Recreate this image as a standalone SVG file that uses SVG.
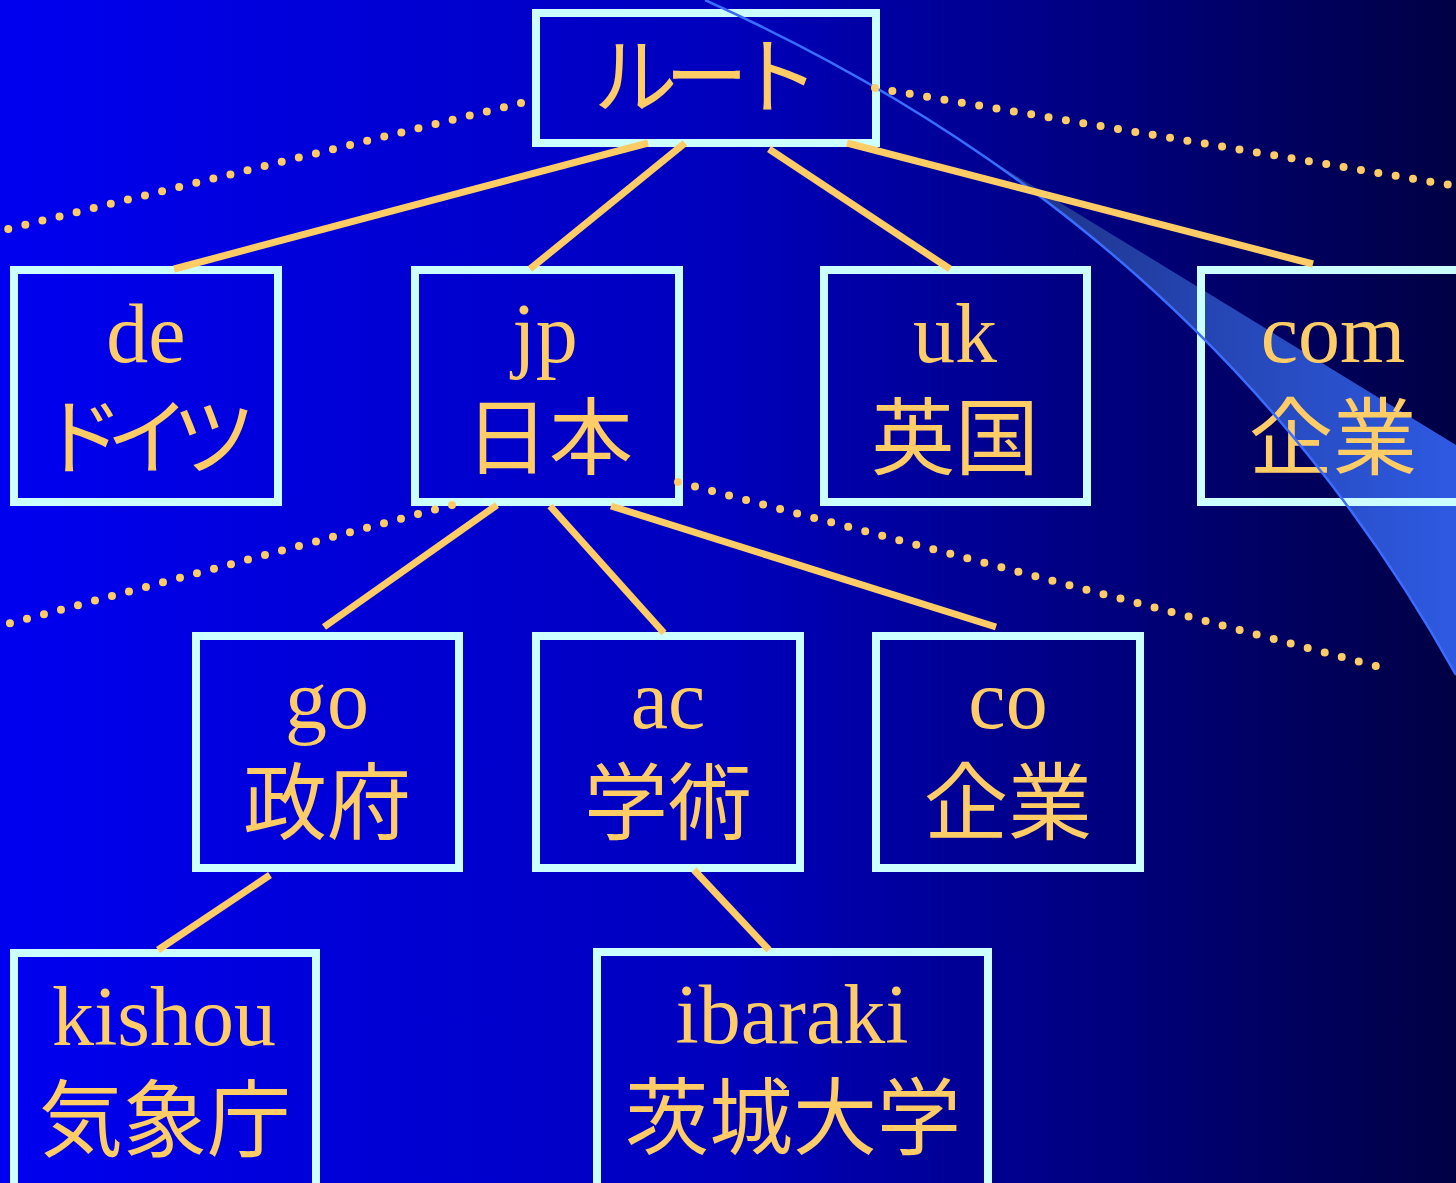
<svg xmlns="http://www.w3.org/2000/svg" width="1456" height="1183" viewBox="0 0 1456 1183">
<defs>
<linearGradient id="bg" x1="0" y1="0" x2="1" y2="0">
<stop offset="0" stop-color="#0000f0"/>
<stop offset="0.5" stop-color="#0000bc"/>
<stop offset="1" stop-color="#000044"/>
</linearGradient>
<linearGradient id="wedge" x1="983" y1="0" x2="1456" y2="0" gradientUnits="userSpaceOnUse">
<stop offset="0" stop-color="#1e2f80"/>
<stop offset="0.45" stop-color="#2444b0"/>
<stop offset="1" stop-color="#2e5ae2"/>
</linearGradient>
<style>
.box{fill:none;stroke:#ccffff;stroke-width:8}
.lat{font-family:"Liberation Serif","Times New Roman",serif;font-size:84px;fill:#ffcc66;text-anchor:middle}
.jp{font-family:"Noto Sans CJK JP","Noto Sans",sans-serif;font-size:84px;fill:#ffcc66;text-anchor:middle}
.edge{stroke:#ffcc66;stroke-width:7;fill:none}
.dot{stroke:#ffcc66;stroke-width:8;fill:none;stroke-linecap:round;stroke-dasharray:0 17.6}
</style>
</defs>
<rect x="0" y="0" width="1456" height="1183" fill="url(#bg)"/>
<g id="swoosh">
<path d="M983.4,155.7 L1456,445 L1456,675 Q1281.7,360.7 983.4,155.7 Z" fill="url(#wedge)"/>
</g>
<g id="node-root">
<rect class="box" x="536" y="13" width="340" height="130"/>
<text class="jp" x="700" y="107" letter-spacing="-13">ルート</text>
</g>
<g id="node-de">
<rect class="box" x="14" y="270" width="264" height="232"/>
<text class="lat" x="146" y="362">de</text>
<text class="jp" x="139" y="468" letter-spacing="-18">ドイツ</text>
</g>
<g id="node-jp">
<rect class="box" x="415" y="270" width="264" height="232"/>
<text class="lat" x="545" y="362">jp</text>
<text class="jp" x="549" y="468">日本</text>
</g>
<g id="node-uk">
<rect class="box" x="824" y="270" width="263" height="232"/>
<text class="lat" x="955" y="362">uk</text>
<text class="jp" x="955" y="468">英国</text>
</g>
<g id="node-com">
<rect class="box" x="1201" y="270" width="270" height="232"/>
<text class="lat" x="1333" y="362">com</text>
<text class="jp" x="1333" y="468">企業</text>
</g>
<g id="node-go">
<rect class="box" x="196" y="636" width="263" height="232"/>
<text class="lat" x="327" y="728">go</text>
<text class="jp" x="327" y="833">政府</text>
</g>
<g id="node-ac">
<rect class="box" x="536" y="636" width="264" height="232"/>
<text class="lat" x="668" y="728">ac</text>
<text class="jp" x="668" y="833">学術</text>
</g>
<g id="node-co">
<rect class="box" x="876" y="636" width="264" height="232"/>
<text class="lat" x="1008" y="728">co</text>
<text class="jp" x="1008" y="833">企業</text>
</g>
<g id="node-kishou">
<rect class="box" x="14" y="953" width="302" height="260"/>
<text class="lat" x="164" y="1045">kishou</text>
<text class="jp" x="165" y="1150">気象庁</text>
</g>
<g id="node-ibaraki">
<rect class="box" x="597" y="952" width="391" height="260"/>
<text class="lat" x="792" y="1043">ibaraki</text>
<text class="jp" x="793" y="1148">茨城大学</text>
</g>
<g id="connectors">
<path d="M705,0 Q1207,226 1456,675" stroke="#3a6cff" stroke-width="2.5" fill="none"/>
<line class="edge" x1="648" y1="143" x2="174" y2="269"/>
<line class="edge" x1="685" y1="143" x2="530" y2="269"/>
<line class="edge" x1="769" y1="149" x2="950" y2="269"/>
<line class="edge" x1="847" y1="143" x2="1313" y2="264"/>
<line class="edge" x1="497" y1="505" x2="324" y2="627"/>
<line class="edge" x1="550" y1="506" x2="664" y2="633"/>
<line class="edge" x1="611" y1="506" x2="996" y2="627"/>
<line class="edge" x1="270" y1="875" x2="158" y2="950"/>
<line class="edge" x1="694" y1="870" x2="769" y2="950"/>
<line class="dot" x1="521" y1="103" x2="0" y2="231"/>
<line class="dot" x1="875" y1="88" x2="1456" y2="186"/>
<line class="dot" x1="452" y1="505" x2="0" y2="626"/>
<line class="dot" x1="678" y1="482" x2="1380" y2="667"/>
</g>
</svg>
